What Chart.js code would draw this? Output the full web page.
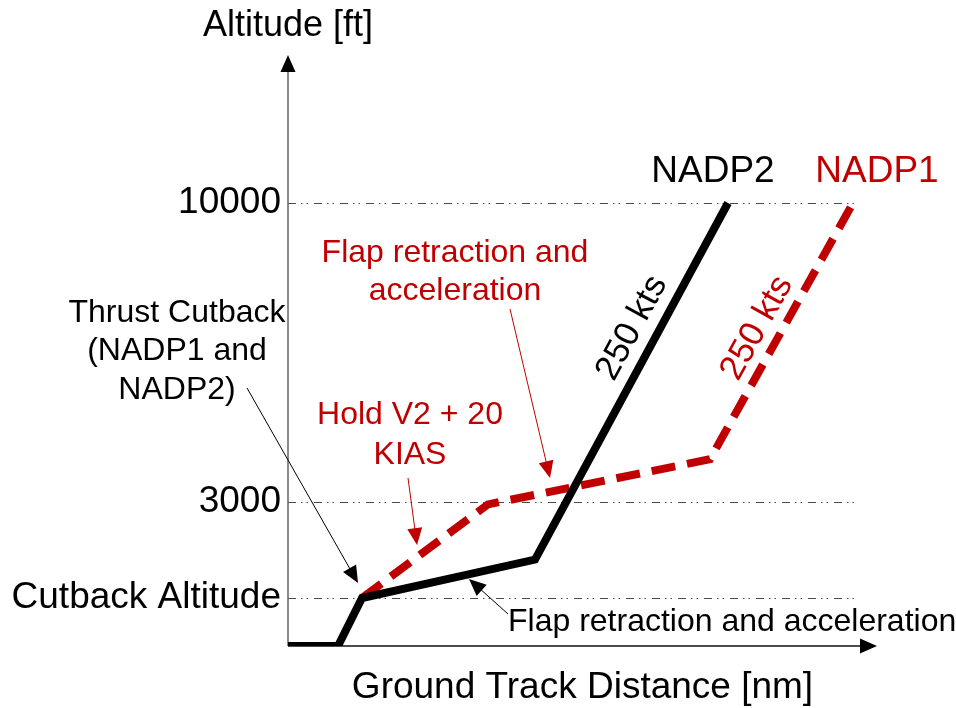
<!DOCTYPE html>
<html>
<head>
<meta charset="utf-8">
<title>NADP1 / NADP2 departure profiles</title>
<script src="https://cdn.jsdelivr.net/npm/chart.js@4.4.1/dist/chart.umd.min.js"></script>
<style>
  html, body { margin: 0; padding: 0; background: #fff; }
  #wrap { width: 956px; height: 708px; }
</style>
</head>
<body>
<div id="wrap"><canvas id="profile"></canvas></div>
<script>
// Schematic noise abatement departure procedures (NADP1 vs NADP2)

// ground track distance (schematic units) and altitude (ft) of each profile
const nadp2Distance = [0, 5.0, 7.4, 24.7, 44.0];
const nadp2Altitude = [0, 0, 1000, 1800, 10000];
const nadp1Distance = [7.4, 20.0, 42.2, 56.5];
const nadp1Altitude = [1000, 2950, 4000, 10000];

// y ticks
const yTickValues = [1000, 3000, 10000];
const yTickLabels = ["Cutback Altitude", "3000", "10000"];

// reference lines run out to this distance
const gridEnd = 56.9;

const FONT = "'Liberation Sans', Arial, sans-serif";
const RED = "#c00000";

// the altitude axis in the original is not to scale: two linear pieces
const altKnots = [0, 3000, 10000, 13465];
const altFracs = [0, 0.2437, 0.7496, 1];

function altToFrac(v) {
  for (let i = 1; i < altKnots.length; i++) {
    if (v <= altKnots[i] || i === altKnots.length - 1) {
      const t = (v - altKnots[i - 1]) / (altKnots[i] - altKnots[i - 1]);
      return altFracs[i - 1] + t * (altFracs[i] - altFracs[i - 1]);
    }
  }
  return 0;
}
function fracToAlt(f) {
  for (let i = 1; i < altFracs.length; i++) {
    if (f <= altFracs[i] || i === altFracs.length - 1) {
      const t = (f - altFracs[i - 1]) / (altFracs[i] - altFracs[i - 1]);
      return altKnots[i - 1] + t * (altKnots[i] - altKnots[i - 1]);
    }
  }
  return 0;
}

class SchematicScale extends Chart.LinearScale {
  getPixelForValue(v) { return this.getPixelForDecimal(altToFrac(v)); }
  getValueForPixel(p) { return fracToAlt(this.getDecimalForPixel(p)); }
}
SchematicScale.id = "schematic";
SchematicScale.defaults = Chart.LinearScale.defaults;
Chart.register(SchematicScale);

const toPoints = (xs, ys) => xs.map((x, i) => ({ x, y: ys[i] }));

// annotations, anchored in data units
const notes = [
  { lines: ["Thrust Cutback", "(NADP1 and", "NADP2)"], x: -11.1, y: 7425, gap: 38.5, color: "#000", align: "center" },
  { lines: ["Flap retraction and", "acceleration"], x: 16.7, y: 8829, gap: 38.5, color: RED, align: "center" },
  { lines: ["Hold V2 + 20", "KIAS"], x: 12.2, y: 5037, gap: 40, color: RED, align: "center" },
  { lines: ["Flap retraction and acceleration"], x: 22.0, y: 500, gap: 0, color: "#000", align: "left" }
];
const seriesNames = [
  { text: "NADP2", x: 42.5, y: 10726, color: "#000" },
  { text: "NADP1", x: 58.9, y: 10726, color: RED }
];
const pointers = [
  { from: [-4.1, 5669], to: [7.0, 1312], color: "#000" },
  { from: [22.2, 7518], to: [26.2, 3562], color: RED },
  { from: [12.0, 3562], to: [12.9, 2104], color: RED },
  { from: [22.0, 667], to: [18.1, 1396], color: "#000" }
];
// speed labels sit on the last climb segment of each profile
const speedLabels = [
  { text: "250 kts", x: 34.4, y: 7073, seg: [nadp2Distance, nadp2Altitude], color: "#000" },
  { text: "250 kts", x: 46.9, y: 7073, seg: [nadp1Distance, nadp1Altitude], color: RED }
];

function arrowHead(ctx, x0, y0, x1, y1, len, half) {
  const a = Math.atan2(y1 - y0, x1 - x0);
  ctx.beginPath();
  ctx.moveTo(x1, y1);
  ctx.lineTo(x1 - len * Math.cos(a) + half * Math.sin(a), y1 - len * Math.sin(a) - half * Math.cos(a));
  ctx.lineTo(x1 - len * Math.cos(a) - half * Math.sin(a), y1 - len * Math.sin(a) + half * Math.cos(a));
  ctx.closePath();
  ctx.fill();
}

const backdrop = {
  id: "backdrop",
  beforeDatasetsDraw(chart) {
    const { ctx, chartArea: ca, scales: { x, y } } = chart;
    ctx.save();
    // dash-dot-dot reference lines
    ctx.strokeStyle = "#4a4a4a";
    ctx.lineWidth = 1;
    ctx.setLineDash([8, 5, 1.5, 4, 1.5, 6]);
    yTickValues.forEach(v => {
      const py = Math.round(y.getPixelForValue(v)) + 0.5;
      ctx.beginPath();
      ctx.moveTo(x.getPixelForValue(0), py);
      ctx.lineTo(x.getPixelForValue(gridEnd), py);
      ctx.stroke();
    });
    ctx.setLineDash([]);
    // axes with arrow heads
    const ox = x.getPixelForValue(0), oy = y.getPixelForValue(0);
    ctx.lineWidth = 1.5;
    ctx.strokeStyle = "#666";
    ctx.beginPath();
    ctx.moveTo(ox, oy);
    ctx.lineTo(ox, ca.top + 12);
    ctx.stroke();
    ctx.strokeStyle = "#111";
    ctx.beginPath();
    ctx.moveTo(ox, oy);
    ctx.lineTo(ca.right - 12, oy);
    ctx.stroke();
    ctx.fillStyle = "#000";
    arrowHead(ctx, ox, oy, ox, ca.top, 17, 7.5);
    arrowHead(ctx, ox, oy, ca.right, oy, 17, 7.5);
    // y axis title above the arrow
    ctx.font = "36px " + FONT;
    ctx.textAlign = "center";
    ctx.textBaseline = "middle";
    ctx.fillText("Altitude [ft]", ox, 26);
    ctx.restore();
  },
  afterDatasetsDraw(chart) {
    const { ctx, scales: { x, y } } = chart;
    ctx.save();
    ctx.textBaseline = "middle";
    ctx.font = "32px " + FONT;
    notes.forEach(n => {
      ctx.fillStyle = n.color;
      ctx.textAlign = n.align;
      const px = x.getPixelForValue(n.x), py = y.getPixelForValue(n.y);
      n.lines.forEach((t, i) => ctx.fillText(t, px, py + i * n.gap));
    });
    ctx.font = "37px " + FONT;
    ctx.textAlign = "center";
    seriesNames.forEach(n => {
      ctx.fillStyle = n.color;
      ctx.fillText(n.text, x.getPixelForValue(n.x), y.getPixelForValue(n.y));
    });
    ctx.lineWidth = 1;
    pointers.forEach(p => {
      const x0 = x.getPixelForValue(p.from[0]), y0 = y.getPixelForValue(p.from[1]);
      const x1 = x.getPixelForValue(p.to[0]), y1 = y.getPixelForValue(p.to[1]);
      ctx.strokeStyle = p.color;
      ctx.fillStyle = p.color;
      const a = Math.atan2(y1 - y0, x1 - x0);
      ctx.beginPath();
      ctx.moveTo(x0, y0);
      ctx.lineTo(x1 - 10 * Math.cos(a), y1 - 10 * Math.sin(a));
      ctx.stroke();
      arrowHead(ctx, x0, y0, x1, y1, 17, 7.5);
    });
    ctx.font = "35px " + FONT;
    ctx.textAlign = "center";
    speedLabels.forEach(s => {
      const [xs, ys] = s.seg;
      const n = xs.length;
      const ax = x.getPixelForValue(xs[n - 2]), ay = y.getPixelForValue(ys[n - 2]);
      const bx = x.getPixelForValue(xs[n - 1]), by = y.getPixelForValue(ys[n - 1]);
      ctx.save();
      ctx.translate(x.getPixelForValue(s.x), y.getPixelForValue(s.y));
      ctx.rotate(Math.atan2(by - ay, bx - ax));
      ctx.fillStyle = s.color;
      ctx.fillText(s.text, 0, 0);
      ctx.restore();
    });
    ctx.restore();
  }
};

new Chart(document.getElementById("profile"), {
  type: "line",
  data: {
    datasets: [
      {
        label: "NADP2",
        data: toPoints(nadp2Distance, nadp2Altitude),
        borderColor: "#000",
        borderWidth: 8,
        borderJoinStyle: "miter",
        borderCapStyle: "butt",
        pointRadius: 0,
        tension: 0,
        fill: false
      },
      {
        label: "NADP1",
        data: toPoints(nadp1Distance, nadp1Altitude),
        borderColor: RED,
        borderWidth: 8,
        borderDash: [24, 12],
        borderJoinStyle: "miter",
        borderCapStyle: "butt",
        pointRadius: 0,
        tension: 0,
        fill: false
      }
    ]
  },
  options: {
    responsive: true,
    maintainAspectRatio: false,
    animation: false,
    layout: { padding: { top: 55, right: 79, left: 0, bottom: 0 } },
    plugins: { legend: { display: false }, tooltip: { enabled: false } },
    scales: {
      x: {
        type: "linear",
        min: 0,
        max: 58.9,
        grid: { display: false, drawTicks: false },
        border: { display: false },
        ticks: { display: false },
        title: {
          display: true,
          text: "Ground Track Distance [nm]",
          color: "#000",
          font: { family: FONT, size: 37, lineHeight: 1.1 },
          padding: { top: 0, bottom: 0 }
        },
        afterFit(s) { s.height = 62; }
      },
      y: {
        type: "schematic",
        min: 0,
        max: 13465,
        grid: { display: false, drawTicks: false },
        border: { display: false },
        afterBuildTicks(s) { s.ticks = yTickValues.map(v => ({ value: v })); },
        ticks: {
          color: "#000",
          padding: 7,
          autoSkip: false,
          font: { family: FONT, size: 37 },
          callback: (v, i) => yTickLabels[i]
        },
        afterFit(s) { s.width = 288; }
      }
    }
  },
  plugins: [backdrop]
});
</script>
</body>
</html>
